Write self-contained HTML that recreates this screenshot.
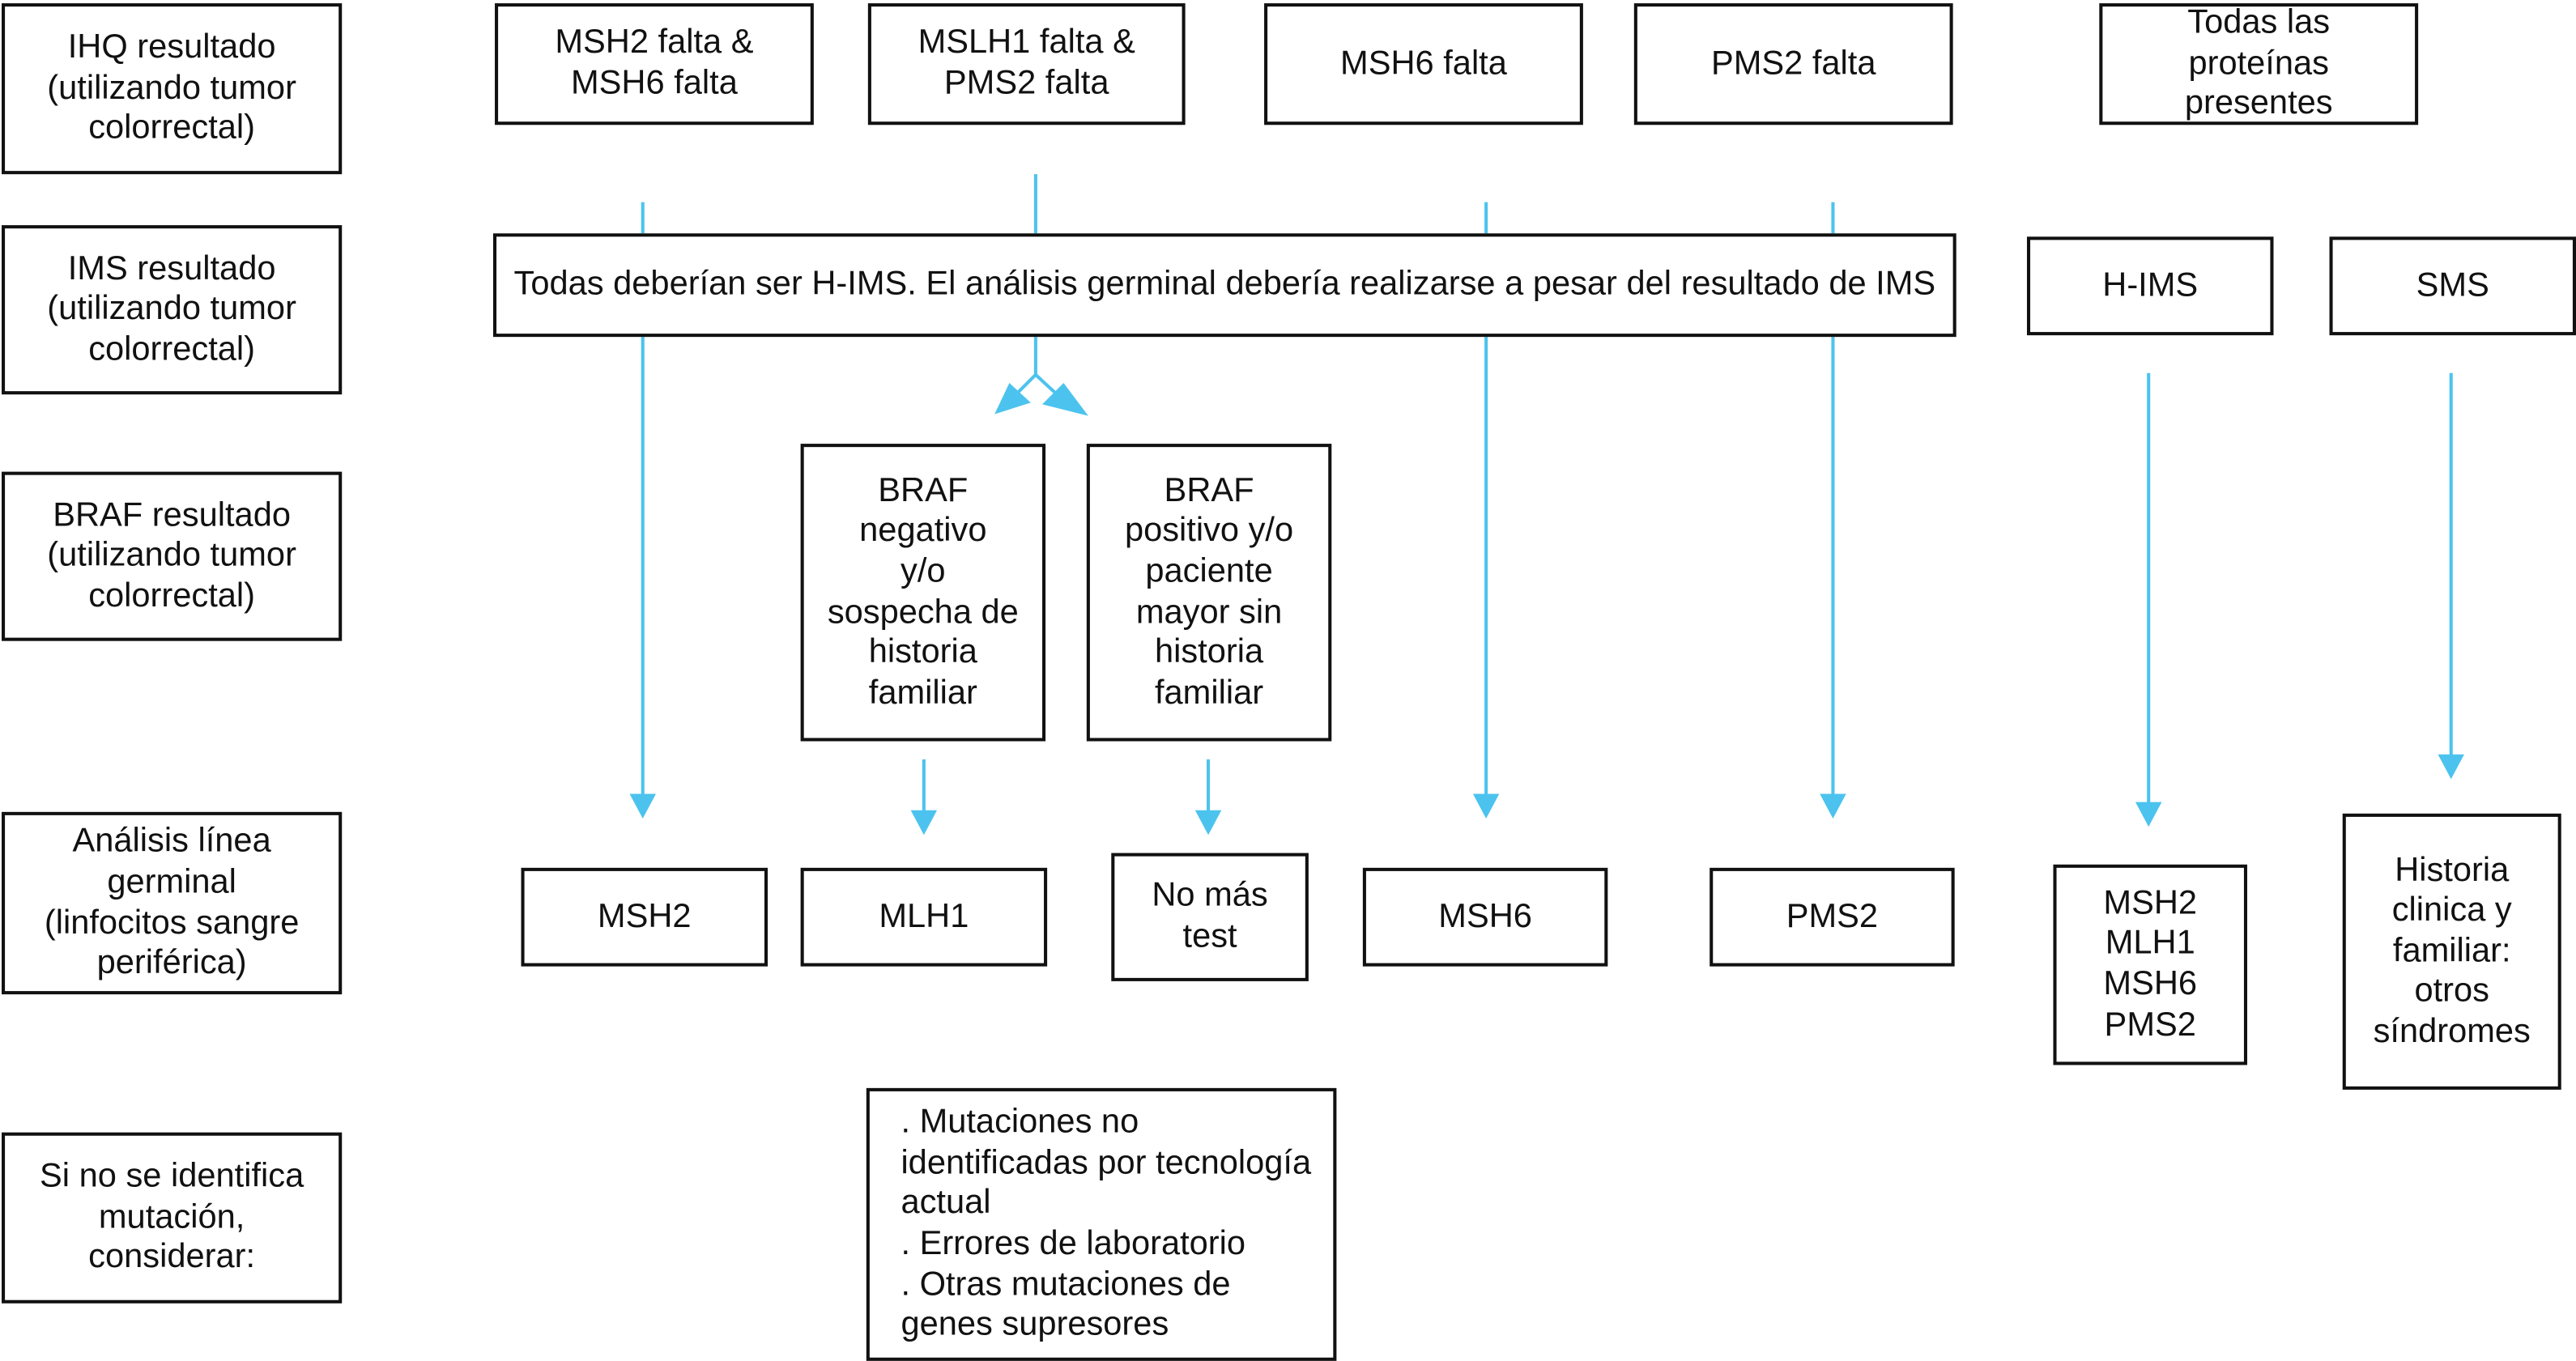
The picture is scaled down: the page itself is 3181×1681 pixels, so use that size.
<!DOCTYPE html>
<html><head><meta charset="utf-8"><style>
html,body{margin:0;padding:0;background:#fff;width:3181px;height:1681px;overflow:hidden}
#c{position:absolute;left:0;top:0;width:1567px;height:828px;transform:scale(2.03);transform-origin:0 0;font-family:"Liberation Sans",Arial,sans-serif;font-size:20.5px;line-height:24.6px;color:#111}
.b{position:absolute;box-sizing:border-box;border:2.4px solid #111;display:flex;align-items:center;justify-content:center;text-align:center;background:#fff;white-space:nowrap}
svg{position:absolute;left:0;top:0}
</style></head><body><div id="c">
<svg width="1567" height="828" viewBox="0 0 1567 828">
<g stroke="#4cc3ee" stroke-width="2" fill="none">
<line x1="391" y1="123" x2="391" y2="142"/><line x1="391" y1="204" x2="391" y2="485"/>
<line x1="630" y1="106" x2="630" y2="142"/><line x1="630" y1="204" x2="630" y2="228"/>
<polyline points="618,240 630,228 643,240"/>
<line x1="904" y1="123" x2="904" y2="142"/><line x1="904" y1="204" x2="904" y2="485"/>
<line x1="1115" y1="123" x2="1115" y2="142"/><line x1="1115" y1="204" x2="1115" y2="485"/>
<line x1="1307" y1="227" x2="1307" y2="490"/>
<line x1="1491" y1="227" x2="1491" y2="462"/>
<line x1="562" y1="462" x2="562" y2="496"/>
<line x1="735" y1="462" x2="735" y2="496"/>
</g>
<g fill="#4cc3ee">
<polygon points="383,483 399,483 391,498"/>
<polygon points="896,483 912,483 904,498"/>
<polygon points="1107,483 1123,483 1115,498"/>
<polygon points="1299,488 1315,488 1307,503"/>
<polygon points="1483,459 1499,459 1491,474"/>
<polygon points="554,493 570,493 562,508"/>
<polygon points="727,493 743,493 735,508"/>
<polygon points="605,252 627,245 614,233"/>
<polygon points="662,253 647,233 634,246"/>
</g>
</svg>
<div class="b" style="left:1px;top:2px;width:207px;height:104px">IHQ resultado<br>(utilizando tumor<br>colorrectal)</div>
<div class="b" style="left:1px;top:137px;width:207px;height:103px">IMS resultado<br>(utilizando tumor<br>colorrectal)</div>
<div class="b" style="left:1px;top:287px;width:207px;height:103px">BRAF resultado<br>(utilizando tumor<br>colorrectal)</div>
<div class="b" style="left:1px;top:494px;width:207px;height:111px">Análisis línea<br>germinal<br>(linfocitos sangre<br>periférica)</div>
<div class="b" style="left:1px;top:689px;width:207px;height:104px">Si no se identifica<br>mutación,<br>considerar:</div>

<div class="b" style="left:301px;top:2px;width:194px;height:74px">MSH2 falta &amp;<br>MSH6 falta</div>
<div class="b" style="left:528px;top:2px;width:193px;height:74px">MSLH1 falta &amp;<br>PMS2 falta</div>
<div class="b" style="left:769px;top:2px;width:194px;height:74px">MSH6 falta</div>
<div class="b" style="left:994px;top:2px;width:194px;height:74px">PMS2 falta</div>
<div class="b" style="left:1277px;top:2px;width:194px;height:74px">Todas las<br>proteínas<br>presentes</div>

<div class="b" style="left:300px;top:142px;width:890px;height:63px">Todas deberían ser H-IMS. El análisis germinal debería realizarse a pesar del resultado de IMS</div>
<div class="b" style="left:1233px;top:144px;width:150px;height:60px">H-IMS</div>
<div class="b" style="left:1417px;top:144px;width:150px;height:60px">SMS</div>

<div class="b" style="left:487px;top:270px;width:149px;height:181px">BRAF<br>negativo<br>y/o<br>sospecha de<br>historia<br>familiar</div>
<div class="b" style="left:661px;top:270px;width:149px;height:181px">BRAF<br>positivo y/o<br>paciente<br>mayor sin<br>historia<br>familiar</div>

<div class="b" style="left:317px;top:528px;width:150px;height:60px">MSH2</div>
<div class="b" style="left:487px;top:528px;width:150px;height:60px">MLH1</div>
<div class="b" style="left:676px;top:519px;width:120px;height:78px">No más<br>test</div>
<div class="b" style="left:829px;top:528px;width:149px;height:60px">MSH6</div>
<div class="b" style="left:1040px;top:528px;width:149px;height:60px">PMS2</div>
<div class="b" style="left:1249px;top:526px;width:118px;height:122px">MSH2<br>MLH1<br>MSH6<br>PMS2</div>
<div class="b" style="left:1425px;top:495px;width:133px;height:168px">Historia<br>clinica y<br>familiar:<br>otros<br>síndromes</div>

<div class="b" style="left:527px;top:662px;width:286px;height:166px;justify-content:flex-start;text-align:left;padding-left:19px">. Mutaciones no<br>identificadas por tecnología<br>actual<br>. Errores de laboratorio<br>. Otras mutaciones de<br>genes supresores</div>
</div></body></html>
